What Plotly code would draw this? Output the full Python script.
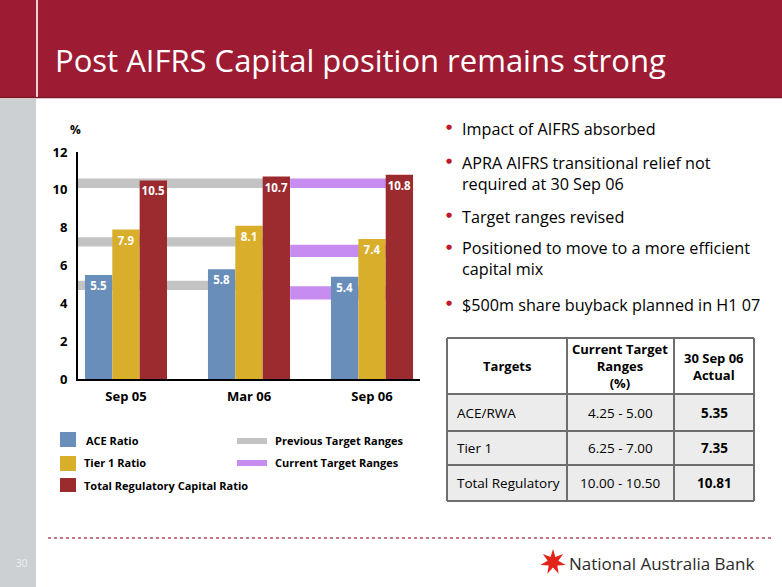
import math
import plotly.graph_objects as go

W, H = 782, 587

# ---------------- data ----------------
periods = ["Sep 05", "Mar 06", "Sep 06"]
ace_ratio = [5.5, 5.8, 5.4]
tier1_ratio = [7.9, 8.1, 7.4]
total_ratio = [10.5, 10.7, 10.8]

# target ranges as drawn (low, high)
previous_ranges = [(4.7, 5.2), (7.0, 7.5), (10.1, 10.6)]
current_ranges = [(4.2, 4.9), (6.45, 7.1), (10.1, 10.6)]

y_ticks = [0, 2, 4, 6, 8, 10, 12]

bullets = [
    "Impact of AIFRS absorbed",
    "APRA AIFRS transitional relief not<br>required at 30 Sep 06",
    "Target ranges revised",
    "Positioned to move to a more efficient<br>capital mix",
    "$500m share buyback planned in H1 07",
]

table_header = ["Targets", "Current Target<br>Ranges<br>(%)", "30 Sep 06<br>Actual"]
table_targets = ["ACE/RWA", "Tier 1", "Total Regulatory"]
table_ranges = ["4.25 - 5.00", "6.25 - 7.00", "10.00 - 10.50"]
table_actual = ["5.35", "7.35", "10.81"]

# ---------------- styles ----------------
BLUE = "#6A8EBA"
YELLOW = "#D8AE2B"
RED = "#9C2B30"
GREY_BAND = "#C3C3C3"
PURPLE_BAND = "#C78CF0"
HEADER_RED = "#9D1B33"
FONT = "Open Sans"


def px(x):
    return x / W


def py(y):
    return 1 - y / H


fig = go.Figure()

for name, vals, col in [("ACE Ratio", ace_ratio, BLUE),
                        ("Tier 1 Ratio", tier1_ratio, YELLOW),
                        ("Total Regulatory Capital Ratio", total_ratio, RED)]:
    fig.add_trace(go.Bar(
        x=periods, y=vals, name=name, marker=dict(color=col, line=dict(width=0)),
        text=[f"<b>{v:.1f}</b>" for v in vals], textposition="inside",
        insidetextanchor="end", textangle=0, constraintext="none",
        textfont=dict(color="white", size=11.5, family=FONT),
        showlegend=False, hoverinfo="x+y",
    ))

shapes = []
# target bands (behind bars)
for lo, hi in previous_ranges:
    shapes.append(dict(type="rect", xref="x", yref="y", x0=-0.45, x1=1.3,
                       y0=lo, y1=hi, fillcolor=GREY_BAND, line=dict(width=0), layer="below"))
for lo, hi in current_ranges:
    shapes.append(dict(type="rect", xref="x", yref="y", x0=1.335, x1=2.2,
                       y0=lo, y1=hi, fillcolor=PURPLE_BAND, line=dict(width=0), layer="below"))

# header
shapes.append(dict(type="rect", xref="paper", yref="paper", x0=0, x1=1, y0=py(97), y1=1,
                   fillcolor=HEADER_RED, line=dict(width=0), layer="below"))
shapes.append(dict(type="line", xref="paper", yref="paper", x0=0, x1=1, y0=py(97.5), y1=py(97.5),
                   line=dict(color="#7E1526", width=1.5), layer="below"))
shapes.append(dict(type="line", xref="paper", yref="paper", x0=px(37), x1=px(37), y0=py(97), y1=1,
                   line=dict(color="#E8D0D5", width=2), layer="below"))
# left grey stripe
shapes.append(dict(type="rect", xref="paper", yref="paper", x0=0, x1=px(36), y0=0, y1=py(99),
                   fillcolor="#CDD0D2", line=dict(width=0), layer="below"))
# footer dotted line
shapes.append(dict(type="line", xref="paper", yref="paper", x0=px(48), x1=px(771), y0=py(538), y1=py(538),
                   line=dict(color="#B5485E", width=1.5, dash="dot"), layer="below"))

# legend swatches
for (y0, y1, col) in [(432, 447, BLUE), (456, 471, YELLOW), (478, 492, RED)]:
    shapes.append(dict(type="rect", xref="paper", yref="paper", x0=px(60), x1=px(76),
                       y0=py(y1), y1=py(y0), fillcolor=col, line=dict(width=0)))
for (yc, col) in [(441, GREY_BAND), (463, PURPLE_BAND)]:
    shapes.append(dict(type="rect", xref="paper", yref="paper", x0=px(237), x1=px(267),
                       y0=py(yc + 3), y1=py(yc - 3), fillcolor=col, line=dict(width=0)))

# table
TL, TR = 447, 754
cols_x = [447, 567, 674, 754]
rows_y = [338, 394, 431, 465, 501]
BORDER = "#6E6E6E"
shapes.append(dict(type="rect", xref="paper", yref="paper", x0=px(TL), x1=px(TR), y0=py(rows_y[1]), y1=py(rows_y[0]),
                   fillcolor="white", line=dict(width=0)))
shapes.append(dict(type="rect", xref="paper", yref="paper", x0=px(TL), x1=px(TR), y0=py(rows_y[-1]), y1=py(rows_y[1]),
                   fillcolor="#ECECEC", line=dict(width=0)))
for yv in rows_y:
    shapes.append(dict(type="line", xref="paper", yref="paper", x0=px(TL), x1=px(TR), y0=py(yv), y1=py(yv),
                       line=dict(color=BORDER, width=2)))
for xv in cols_x:
    shapes.append(dict(type="line", xref="paper", yref="paper", x0=px(xv), x1=px(xv), y0=py(rows_y[-1]), y1=py(rows_y[0]),
                       line=dict(color=BORDER, width=2)))

# NAB star logo (7-point)
cx, cy, ro, ri = 553, 562, 13, 5.5
pts = []
for k in range(14):
    ang = -math.pi / 2 + k * math.pi / 7
    r = ro if k % 2 == 0 else ri
    pts.append((px(cx + r * math.cos(ang)), py(cy + r * math.sin(ang))))
path = "M " + " L ".join(f"{a:.5f},{b:.5f}" for a, b in pts) + " Z"
shapes.append(dict(type="path", xref="paper", yref="paper", path=path,
                   fillcolor="#E2231A", line=dict(width=0)))

annotations = []


def ann(x, y, text, size, color="black", xanchor="left", bold=False, family=FONT, align="left",
        yanchor="middle"):
    if bold:
        text = f"<b>{text}</b>"
    annotations.append(dict(x=px(x), y=py(y), xref="paper", yref="paper", text=text, showarrow=False,
                            xanchor=xanchor, yanchor=yanchor, align=align,
                            font=dict(size=size, color=color, family=family)))


ann(53, 60, "Post AIFRS Capital position remains strong", 31, color="white")
ann(75, 130, "%", 12, xanchor="center", bold=True)

# legend texts
ann(84, 440, "ACE Ratio", 11, bold=True)
ann(82, 463, "Tier 1 Ratio", 11, bold=True)
ann(82, 485, "Total Regulatory Capital Ratio", 11, bold=True)
ann(273, 440, "Previous Target Ranges", 11, bold=True)
ann(273, 463, "Current Target Ranges", 11, bold=True)

# bullets
bullet_top = [127, 161, 215, 247, 303]
for t, yv in zip(bullets, bullet_top):
    annotations.append(dict(x=px(449), y=py(yv), xref="paper", yref="paper", text="●", showarrow=False,
                            xanchor="center", yanchor="middle", font=dict(size=7, color="#C0172D", family="DejaVu Sans")))
    ann(460, yv - 11.5, t, 16.2, yanchor="top")

# table texts
hdr_x = [507, 620, 714]
for t, xv in zip(table_header, hdr_x):
    ann(xv, 366, t, 13, xanchor="center", bold=True, align="center")
row_c = [412.5, 448, 483]
for t, r, a, yv in zip(table_targets, table_ranges, table_actual, row_c):
    ann(455, yv, t, 13.5)
    ann(620, yv, r, 13.5, xanchor="center")
    ann(714, yv, a, 13.5, xanchor="center", bold=True)

# footer
ann(22, 563, "30", 10, color="#EEEEEE", xanchor="center")
ann(567, 563, "National Australia Bank", 17, color="#2B2B2B")

fig.update_layout(
    width=W, height=H, margin=dict(l=0, r=0, t=0, b=0, pad=0, autoexpand=False),
    paper_bgcolor="white", plot_bgcolor="rgba(0,0,0,0)",
    barmode="group", bargap=0.333, bargroupgap=0,
    shapes=shapes, annotations=annotations, showlegend=False,
    font=dict(family=FONT, color="black"),
    xaxis=dict(domain=[px(78), px(420)], range=[-0.39, 2.39], showgrid=False, zeroline=False,
               showline=True, linecolor="black", linewidth=2, ticks="", automargin=False,
               tickfont=dict(size=13, family=FONT, color="black"), ticklabelstandoff=4),
    yaxis=dict(domain=[py(379), py(152)], range=[0, 12], tickvals=y_ticks, showgrid=False, zeroline=False,
               showline=True, linecolor="black", linewidth=2, ticks="", automargin=False,
               tickfont=dict(size=13, family=FONT, color="black"), ticklabelstandoff=6),
)
fig.update_xaxes(tickvals=periods, ticktext=[f"<b>{p}</b>" for p in periods])
fig.update_yaxes(ticktext=[f"<b>{v}</b>" for v in y_ticks])

fig.write_html("out.html", config={"displayModeBar": False},
               post_script="document.body.style.margin='0';document.body.style.overflow='hidden';")
